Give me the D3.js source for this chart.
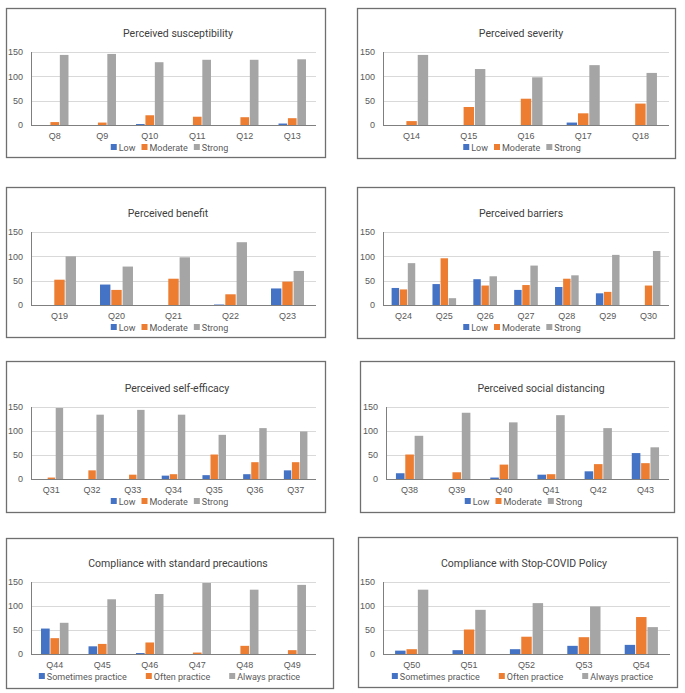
<!DOCTYPE html>
<html>
<head>
<meta charset="utf-8">
<script src="https://cdn.jsdelivr.net/npm/d3@7"></script>
<style>
  body { margin: 0; background: #fff; }
  svg { display: block; font-family: Roboto, "Liberation Sans", sans-serif; }
</style>
</head>
<body>
<svg id="chart" width="685" height="693"></svg>
<script>
// ---- data ----
var levelNames = ["Low", "Moderate", "Strong"];
var practiceNames = ["Sometimes practice", "Often practice", "Always practice"];
var yTicks = [0, 50, 100, 150];

var susceptQs = ["Q8", "Q9", "Q10", "Q11", "Q12", "Q13"];
var susceptLow = [0, 0, 2, 0, 0, 3];
var susceptModerate = [6, 5, 20, 17, 16, 14];
var susceptStrong = [144, 146, 129, 134, 134, 135];

var severityQs = ["Q14", "Q15", "Q16", "Q17", "Q18"];
var severityLow = [0, 0, 0, 5, 0];
var severityModerate = [8, 37, 54, 24, 44];
var severityStrong = [144, 115, 98, 123, 107];

var benefitQs = ["Q19", "Q20", "Q21", "Q22", "Q23"];
var benefitLow = [0, 42, 0, 1, 34];
var benefitModerate = [52, 31, 54, 22, 48];
var benefitStrong = [100, 79, 98, 129, 70];

var barrierQs = ["Q24", "Q25", "Q26", "Q27", "Q28", "Q29", "Q30"];
var barrierLow = [35, 43, 53, 31, 37, 24, 0];
var barrierModerate = [32, 96, 40, 41, 54, 27, 40];
var barrierStrong = [86, 14, 59, 81, 61, 103, 111];

var efficacyQs = ["Q31", "Q32", "Q33", "Q34", "Q35", "Q36", "Q37"];
var efficacyLow = [0, 0, 0, 7, 8, 10, 18];
var efficacyModerate = [3, 18, 9, 10, 51, 35, 35];
var efficacyStrong = [148, 134, 144, 134, 92, 106, 99];

var distancingQs = ["Q38", "Q39", "Q40", "Q41", "Q42", "Q43"];
var distancingLow = [12, 0, 3, 9, 16, 54];
var distancingModerate = [51, 14, 30, 10, 31, 33];
var distancingStrong = [90, 138, 118, 133, 106, 66];

var standardQs = ["Q44", "Q45", "Q46", "Q47", "Q48", "Q49"];
var standardSometimes = [53, 16, 2, 0, 0, 0];
var standardOften = [33, 21, 24, 3, 17, 8];
var standardAlways = [65, 114, 125, 148, 134, 144];

var stopCovidQs = ["Q50", "Q51", "Q52", "Q53", "Q54"];
var stopCovidSometimes = [7, 8, 10, 17, 19];
var stopCovidOften = [10, 51, 36, 35, 77];
var stopCovidAlways = [134, 92, 106, 99, 56];

var colors = ["#4472C4", "#ED7D31", "#A5A5A5"];

var svg = d3.select("#chart");

// box: frame, plot: [left, right, y at 150, y at 0], tx: title centre
function drawPanel(title, cats, series, names, box, plot, tx, legendGap) {
  var g = svg.append("g");
  g.append("rect")
    .attr("x", box[0] + 0.5).attr("y", box[1] + 0.5)
    .attr("width", box[2] - box[0]).attr("height", box[3] - box[1])
    .attr("fill", "#fff").attr("stroke", "#6f6f6f").attr("stroke-width", 1.3);

  var y = d3.scaleLinear().domain([0, 150]).range([plot[3], plot[2]]);
  var x = d3.scaleBand().domain(cats).range([plot[0], plot[1]])
    .paddingInner(0.39).paddingOuter(0.195);
  var xs = d3.scaleBand().domain(d3.range(series.length))
    .range([0, x.bandwidth()]).padding(0.08);

  // grid
  g.selectAll(".grid").data(yTicks.slice(1)).enter().append("line")
    .attr("x1", plot[0]).attr("x2", plot[1])
    .attr("y1", function (d) { return Math.round(y(d)) + 0.5; })
    .attr("y2", function (d) { return Math.round(y(d)) + 0.5; })
    .attr("stroke", "#d9d9d9");

  // y labels
  var yAxis = d3.axisLeft(y).tickValues(yTicks).tickSize(0).tickPadding(8);
  var ya = g.append("g").attr("transform", "translate(" + plot[0] + ",0)").call(yAxis);
  ya.select(".domain").remove();
  ya.selectAll("text").attr("font-size", 9).attr("fill", "#595959");

  // bars
  series.forEach(function (vals, si) {
    g.selectAll(".s" + si).data(vals).enter().append("rect")
      .attr("x", function (d, i) { return x(cats[i]) + xs(si); })
      .attr("width", xs.bandwidth())
      .attr("y", function (d) { return y(d); })
      .attr("height", function (d) { return y(0) - y(d); })
      .attr("fill", colors[si]);
  });

  // axes lines
  g.append("line").attr("x1", plot[0] + 0.5).attr("x2", plot[0] + 0.5)
    .attr("y1", plot[2]).attr("y2", plot[3]).attr("stroke", "#7f7f7f");
  g.append("line").attr("x1", plot[0]).attr("x2", plot[1])
    .attr("y1", plot[3] + 0.5).attr("y2", plot[3] + 0.5).attr("stroke", "#7f7f7f");

  var xAxis = d3.axisBottom(x).tickSize(0).tickPadding(8);
  var xa = g.append("g").attr("transform", "translate(0," + plot[3] + ")").call(xAxis);
  xa.select(".domain").remove();
  xa.selectAll("text").attr("font-size", 9).attr("fill", "#595959");

  // title
  g.append("text").attr("x", tx).attr("y", y(150) - 15)
    .attr("text-anchor", "middle").attr("font-size", 10.5).attr("fill", "#404040")
    .text(title);

  // legend
  var lg = g.append("g");
  var cx = 0;
  names.forEach(function (n, i) {
    var it = lg.append("g").attr("transform", "translate(" + cx + ",0)");
    it.append("rect").attr("x", 0).attr("y", -3).attr("width", 6).attr("height", 6).attr("fill", colors[i]);
    var t = it.append("text").attr("x", 8).attr("y", 3.5).attr("font-size", 9)
      .attr("fill", "#595959").text(n);
    cx += 8 + t.node().getComputedTextLength() + legendGap;
  });
  var lw = cx - legendGap;
  var lcx = (plot[0] + plot[1]) / 2 - 4;
  lg.attr("transform", "translate(" + (lcx - lw / 2) + "," + (plot[3] + 22) + ")");
}

drawPanel("Perceived susceptibility", susceptQs,
  [susceptLow, susceptModerate, susceptStrong], levelNames,
  [6, 8, 325, 157], [31, 316, 52, 125], 178, 6);
drawPanel("Perceived severity", severityQs,
  [severityLow, severityModerate, severityStrong], levelNames,
  [357, 8, 675, 158], [383, 669, 52, 125], 521, 6);
drawPanel("Perceived benefit", benefitQs,
  [benefitLow, benefitModerate, benefitStrong], levelNames,
  [6, 187, 325, 337], [31, 316, 232, 305], 168, 6);
drawPanel("Perceived barriers", barrierQs,
  [barrierLow, barrierModerate, barrierStrong], levelNames,
  [357, 187, 674, 338], [383, 669, 232, 305], 521, 6);
drawPanel("Perceived self-efficacy", efficacyQs,
  [efficacyLow, efficacyModerate, efficacyStrong], levelNames,
  [6, 361, 325, 512], [31, 316, 407, 479], 177, 6);
drawPanel("Perceived social distancing", distancingQs,
  [distancingLow, distancingModerate, distancingStrong], levelNames,
  [360, 361, 674, 512], [386, 669, 407, 479], 541, 6);
drawPanel("Compliance with standard precautions", standardQs,
  [standardSometimes, standardOften, standardAlways], practiceNames,
  [6, 538, 333, 688], [31, 316, 582, 654], 178, 19);
drawPanel("Compliance with Stop-COVID Policy", stopCovidQs,
  [stopCovidSometimes, stopCovidOften, stopCovidAlways], practiceNames,
  [358, 537, 677, 687], [383, 670, 582, 654], 524, 19);
</script>
</body>
</html>
